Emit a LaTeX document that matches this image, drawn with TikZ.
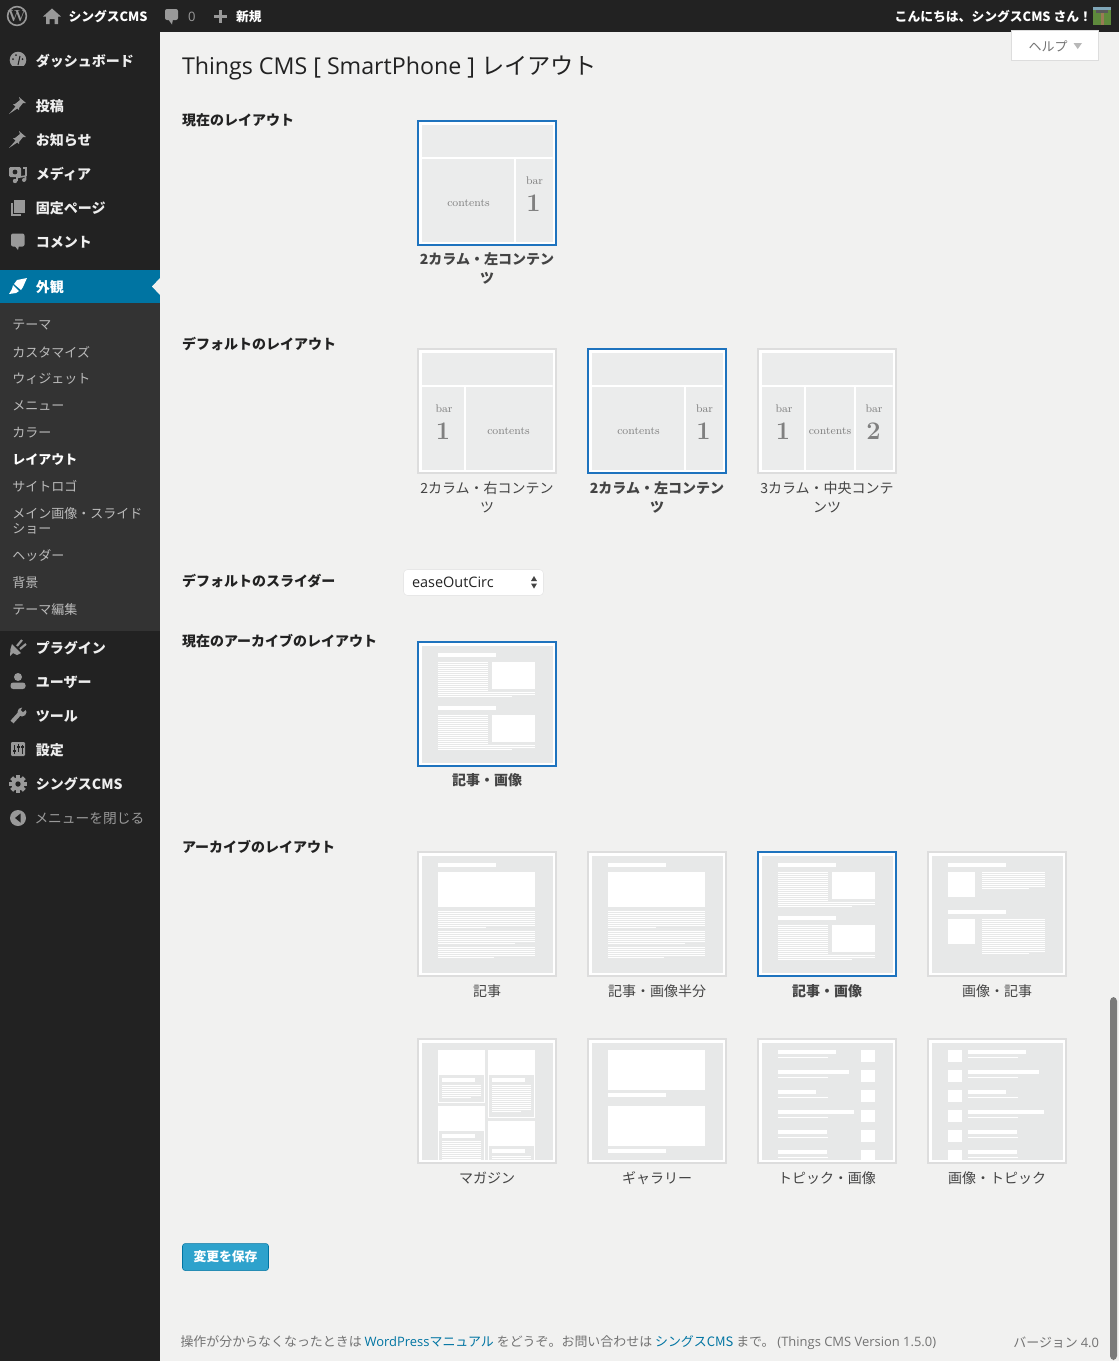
\documentclass[tikz,border=0pt]{standalone}
\usepackage{fontspec}
\newfontfamily\cjk{Noto Sans CJK JP}
\newfontfamily\ops{Open Sans}
\definecolor{pagebg}{HTML}{F1F1F0}
\definecolor{barbg}{HTML}{222222}
\definecolor{subbg}{HTML}{333333}
\definecolor{activebg}{HTML}{0074A2}
\definecolor{icongray}{HTML}{999999}
\definecolor{menutxt}{HTML}{EEEEEE}
\definecolor{subtxt}{HTML}{BBBBBB}
\definecolor{thumbblue}{HTML}{1E73BE}
\definecolor{thumbedge}{HTML}{DDDDDD}
\definecolor{thumbgray}{HTML}{E7E8E8}
\definecolor{cellgray}{HTML}{EBECEC}
\definecolor{linkblue}{HTML}{0074A2}
\definecolor{labtxt}{HTML}{444444}
\definecolor{btnblue}{HTML}{2EA2CC}
\definecolor{avgreen}{HTML}{5E8A3C}
\definecolor{avsky}{HTML}{7FA6B8}
\definecolor{avpath}{HTML}{9A7A55}
\tikzset{
  txt/.style={inner sep=0pt,outer sep=0pt,yshift=-0.75pt},
  menuitem/.style={txt,anchor=west,text=menutxt,font=\cjk\bfseries\fontsize{10.5}{12}\selectfont},
  subitem/.style={txt,anchor=west,text=subtxt,align=left,font=\cjk\fontsize{9.75}{11.2}\selectfont},
  section/.style={txt,anchor=west,text=barbg,font=\cjk\bfseries\fontsize{10.5}{12}\selectfont},
  thumblab/.style={txt,anchor=center,text=labtxt,align=center,font=\cjk\fontsize{10.5}{14.25}\selectfont},
  thumbsel/.style={thumblab,font=\cjk\bfseries\fontsize{10.5}{14.25}\selectfont},
  cellsmall/.style={txt,anchor=center,text=black!50,font=\rmfamily\fontsize{8.3}{10}\selectfont},
  cellbig/.style={txt,anchor=center,text=black!50,font=\rmfamily\bfseries\fontsize{19}{22}\selectfont},
}
% stripes: x1, x2, first y, number of full rows, x of the short row (0 = none)
\newcommand\rows[5]{%
  \foreach \k in {1,...,#4}{\fill[white] (#1,{#3+2*(\k-1)}) rectangle (#2,{#3+2*\k-1});}%
  \ifnum#5>0 \fill[white] (#1,{#3+2*#4}) rectangle (#5,{#3+2*#4+1});\fi}
\newcommand\wbox[4]{\fill[white] (#1,#2) rectangle (#3,#4);}
\newcommand\thumb[5]{% x, y, edge, inner colour, content
  \begin{scope}[shift={(#1,#2)}]
    \fill[#3] (0,0) rectangle (140,126);
    \fill[white] (2,2) rectangle (138,124);
    \fill[#4] (4.5,4.5) rectangle (135.5,121.5);
    \begin{scope}
      \clip (4.5,4.5) rectangle (135.5,121.5);
      #5
    \end{scope}
  \end{scope}}
\newcommand\cntA{\wbox{4.5}{37}{135.5}{39}\wbox{97}{39}{99}{121.5}%
  \node[cellsmall] (c\thenodeid a) at (51.5,82) {contents};
  \node[cellsmall] (c\thenodeid b) at (117.5,60) {bar};
  \node[cellbig] (c\thenodeid c) at (116.5,82) {1};}
\newcommand\cntB{\wbox{4.5}{37}{135.5}{39}\wbox{47}{39}{49}{121.5}%
  \node[cellsmall] (c\thenodeid a) at (91.5,82) {contents};
  \node[cellsmall] (c\thenodeid b) at (27,60) {bar};
  \node[cellbig] (c\thenodeid c) at (26,82) {1};}
\newcommand\cntC{\wbox{4.5}{37}{135.5}{39}\wbox{47}{39}{49}{121.5}\wbox{97}{39}{99}{121.5}%
  \node[cellsmall] (c\thenodeid a) at (73,82) {contents};
  \node[cellsmall] (c\thenodeid b) at (27,60) {bar};
  \node[cellbig] (c\thenodeid c) at (26,82) {1};
  \node[cellsmall] (c\thenodeid d) at (117,60) {bar};
  \node[cellbig] (c\thenodeid e) at (116.5,82) {2};}
\newcount\nodeidc
\newcommand\thenodeid{\the\nodeidc}
\newcommand\artFull{\wbox{21}{12}{79}{16}\wbox{21}{21}{118}{56}%
  \rows{21}{118}{60}{8}{69}\rows{21}{118}{80}{6}{98}\rows{21}{118}{96}{5}{77}}
\newcommand\artImg{\wbox{21}{12}{79}{16}\wbox{75}{21}{118}{48}%
  \rows{21}{71}{21}{15}{0}\rows{21}{118}{51}{2}{95}%
  \wbox{21}{65}{79}{69}\wbox{75}{74}{118}{101}%
  \rows{21}{71}{74}{15}{0}\rows{21}{118}{104}{2}{95}}
\newcommand\imgArt{\wbox{21}{12}{79}{16}\wbox{21}{21}{48}{46}%
  \rows{55}{118}{21}{8}{102}%
  \wbox{21}{59}{79}{63}\wbox{21}{68}{48}{93}%
  \rows{55}{118}{68}{17}{102}}
\newcommand\magazine{%
  \wbox{21}{12}{68}{65}\fill[thumbgray] (22,37) rectangle (67,64);
  \wbox{25}{40}{58}{44}\rows{25}{64}{47}{6}{54}%
  \wbox{71}{12}{118}{80}\fill[thumbgray] (72,37) rectangle (117,79);
  \wbox{75}{40}{108}{44}\rows{75}{114}{47}{13}{104}%
  \wbox{21}{68}{68}{125}\fill[thumbgray] (22,93) rectangle (67,125);
  \wbox{25}{96}{58}{100}\rows{25}{64}{103}{10}{0}%
  \wbox{71}{83}{118}{125}\fill[thumbgray] (72,108) rectangle (117,125);
  \wbox{75}{111}{108}{115}\rows{75}{114}{118}{3}{0}}
\newcommand\gallery{\wbox{21}{12}{118}{52}\wbox{21}{55}{79}{59}\wbox{21}{68}{118}{108}\wbox{21}{111}{79}{115}}
\newcommand\topicR{%
  \foreach \yy/\xe in {12/79,32/92,52/59,72/97,92/70,112/70}{%
    \fill[white] (21,\yy) rectangle (\xe,\yy+4);
    \fill[white] (21,\yy+7) rectangle (71,\yy+8);
    \fill[white] (104,\yy) rectangle (118,\yy+12);}}
\newcommand\topicL{%
  \foreach \yy/\xe in {12/99,32/112,52/79,72/117,92/90,112/90}{%
    \fill[white] (21,\yy) rectangle (35,\yy+12);
    \fill[white] (41,\yy) rectangle (\xe,\yy+4);
    \fill[white] (41,\yy+7) rectangle (91,\yy+8);}}
\begin{document}
\begin{tikzpicture}[x=0.75pt,y=-0.75pt]
\useasboundingbox (0,0) rectangle (1119,1361);
\fill[pagebg] (0,0) rectangle (1119,1361);
% side and top bars
\fill[barbg] (0,0) rectangle (160,1361);
\fill[subbg] (0,303) rectangle (160,631);
\fill[activebg] (0,270) rectangle (160,303);
\fill[pagebg] (160,278) -- (152,286.5) -- (160,295) -- cycle;
\fill[barbg] (0,0) rectangle (1119,32);
% top bar icons
\draw[icongray,line width=1.2pt] (17,16) circle (9.4);
\node[txt,yshift=0.75pt,text=icongray,font=\rmfamily\bfseries\fontsize{12}{12}\selectfont] (wplogo) at (17,16) {W};
\fill[icongray] (52,8.5) -- (61,16.5) -- (58,16.5) -- (58,24) -- (54.5,24) -- (54.5,19) -- (49.5,19) -- (49.5,24) -- (46,24) -- (46,16.5) -- (43,16.5) -- cycle;
\fill[icongray,rounded corners=1.5pt] (165,9) rectangle (178,20);
\fill[icongray] (168,19) -- (172,24.5) -- (173,19) -- cycle;
\fill[icongray] (218.5,9.5) rectangle (221.5,23);
\fill[icongray] (213.5,14.8) rectangle (226.5,17.8);
\node[menuitem,text=white,font=\cjk\bfseries\fontsize{9.6}{12}\selectfont] (sitename) at (68.5,15.5) {シングスCMS};
\node[txt,anchor=west,text=icongray,font=\ops\fontsize{9.75}{12}\selectfont] (commentcount) at (188,15.5) {0};
\node[menuitem,text=white,font=\cjk\bfseries\fontsize{9.6}{12}\selectfont] (newitem) at (236,15.5) {新規};
\node[txt,anchor=east,text=white,font=\cjk\bfseries\fontsize{9.6}{12}\selectfont] (greeting) at (1092,15.5) {こんにちは、シングスCMS さん！};
% avatar
\fill[avgreen] (1093,7) rectangle (1111,25);
\fill[avsky] (1093,7) rectangle (1111,10);
\fill[black!65] (1096,10) rectangle (1108,12.5);
\fill[avpath] (1100.5,12.5) rectangle (1103.5,25);
% help tab
\fill[white,draw=thumbedge] (1011.5,30) rectangle (1098.5,60.5);
\node[txt,text=icongray!75!black,font=\cjk\fontsize{9.75}{12}\selectfont] (helptab) at (1048,45) {ヘルプ};
\fill[icongray!70!white] (1073.5,43) -- (1082,43) -- (1077.7,49) -- cycle;
% sidebar icons
\begin{scope}[shift={(18,60)}]
  \fill[icongray] (0,0) circle (8.3);
  \fill[barbg] (-9,6) rectangle (9,9);
  \draw[barbg,line width=.8pt] (0,5) -- (2,-4);
  \fill[barbg] (-5,-1) circle (1); \fill[barbg] (-2,-5) circle (1); \fill[barbg] (4.5,-1) circle (1);
\end{scope}
\foreach \py in {105,139}{
  \fill[icongray] ({18+1},{\py-8}) -- ({18+8},{\py-2}) -- ({18+5},{\py-2}) -- ({18+1},{\py+3}) -- ({18+1},{\py+5}) -- ({18-5},{\py-1}) -- ({18-3},{\py-1}) -- ({18+2},{\py-5}) -- cycle;
  \fill[icongray] ({18-9},{\py+9}) -- ({18-2},{\py+1}) -- ({18},{\py+3}) -- cycle;
}
\begin{scope}[shift={(18,173)}]
  \fill[icongray,rounded corners=1pt] (-9,-6) rectangle (3,4);
  \fill[barbg] (-3,-1) circle (2.4);
  \fill[icongray] (-3,8) circle (2.2); \fill[icongray] (6,7) circle (2);
  \draw[icongray,line width=1.2pt] (-1,8) -- (-1,4.5) -- (7.5,3) -- (7.5,7);
  \draw[icongray,line width=1.2pt] (5,-5) -- (8,-5) -- (8,3);
\end{scope}
\begin{scope}[shift={(18,207)}]
  \fill[icongray] (-7,-4) rectangle (3,9);
  \fill[barbg] (-5,-7) rectangle (7,6.5);
  \fill[icongray] (-4,-7) rectangle (6.5,5.5);
\end{scope}
\begin{scope}[shift={(18,241)}]
  \fill[icongray,rounded corners=1.5pt] (-7,-7.5) rectangle (6.5,5.5);
  \fill[icongray] (-4,4) -- (0,9) -- (1,4) -- cycle;
\end{scope}
\begin{scope}[shift={(18,286)}]
  \fill[white] (9,-8) -- (-1,-6) -- (-4,-2) -- (3,4) -- (5,1) -- (9,-8) -- cycle;
  \fill[white] (-5,-1) -- (1,5) -- (-2,7) -- (-9,8) -- (-6,3) -- cycle;
\end{scope}
\begin{scope}[shift={(18,647)}]
  \fill[icongray] (-6,-3) -- (3,6) -- (-1,8) -- (-5,6) -- (-8,9) -- (-7.5,2) -- cycle;
  \draw[icongray,line width=1.6pt] (-1,-1) -- (4,-7);
  \draw[icongray,line width=1.6pt] (2,2) -- (8,-3);
\end{scope}
\begin{scope}[shift={(18,681)}]
  \fill[icongray] (0,-4) circle (4);
  \fill[icongray,rounded corners=2pt] (-7.5,8) -- (-7.5,1.5) -- (7.5,1.5) -- (7.5,8) -- cycle;
\end{scope}
\begin{scope}[shift={(18,715)}]
  \draw[icongray,line width=3pt] (-6,7) -- (3,-3);
  \fill[icongray] (4,-3) circle (4.5);
  \fill[barbg] (5,-9) -- (9,-6) -- (5,-3) -- (3,-5) -- cycle;
\end{scope}
\begin{scope}[shift={(18,749)}]
  \fill[icongray,rounded corners=.8pt] (-7,-7) rectangle (7,7);
  \draw[barbg,line width=.9pt] (-3.5,-4) -- (-3.5,5) (0.5,-5) -- (0.5,3) (4.5,-4) -- (4.5,5);
  \draw[barbg,line width=1pt] (-5,2) -- (-2,2) (-1,-2) -- (2,-2) (3,-2) -- (6,-2);
\end{scope}
\begin{scope}[shift={(18,784)}]
  \foreach \a in {0,45,...,315}{\fill[icongray,rotate=\a] (-2,-9) rectangle (2,-4);}
  \fill[icongray] (0,0) circle (6.5);
  \fill[barbg] (0,0) circle (2.7);
\end{scope}
\begin{scope}[shift={(18,818)}]
  \fill[icongray] (0,0) circle (8);
  \fill[barbg] (2.5,-4.5) -- (-3,0) -- (2.5,4.5) -- cycle;
\end{scope}
% sidebar text
\node[menuitem] (mDash) at (36,60) {ダッシュボード};
\node[menuitem] (mPost) at (36,105) {投稿};
\node[menuitem] (mNews) at (36,139) {お知らせ};
\node[menuitem] (mMedia) at (36,173) {メディア};
\node[menuitem] (mPage) at (36,207) {固定ページ};
\node[menuitem] (mComm) at (36,241) {コメント};
\node[menuitem,text=white] (mLook) at (36,286) {外観};
\node[subitem] (s1) at (12.5,324) {テーマ};
\node[subitem] (s2) at (12.5,351) {カスタマイズ};
\node[subitem] (s3) at (12.5,378) {ウィジェット};
\node[subitem] (s4) at (12.5,405) {メニュー};
\node[subitem] (s5) at (12.5,432) {カラー};
\node[subitem,text=white,font=\cjk\bfseries\fontsize{9.75}{11.2}\selectfont] (s6) at (12.5,459) {レイアウト};
\node[subitem] (s7) at (12.5,485) {サイトロゴ};
\node[subitem] (s8) at (12.5,520) {メイン画像・スライド\\ショー};
\node[subitem] (s9) at (12.5,554) {ヘッダー};
\node[subitem] (s10) at (12.5,582) {背景};
\node[subitem] (s11) at (12.5,609) {テーマ編集};
\node[menuitem] (mPlug) at (36,647) {プラグイン};
\node[menuitem] (mUser) at (36,681) {ユーザー};
\node[menuitem] (mTool) at (36,715) {ツール};
\node[menuitem] (mSet) at (36,749) {設定};
\node[menuitem] (mCms) at (36,783.5) {シングスCMS};
\node[menuitem,text=icongray,font=\cjk\fontsize{10.3}{12}\selectfont] (mClose) at (34.5,817.5) {メニューを閉じる};
% heading and section labels
\node[txt,anchor=west,text=barbg,font=\fontsize{17.4}{20}\selectfont] (title) at (182,67) {\ops Things CMS [ SmartPhone ] \cjk レイアウト};
\node[section] (h1) at (182,119) {現在のレイアウト};
\node[section] (h2) at (182,343) {デフォルトのレイアウト};
\node[section] (h3) at (182,580) {デフォルトのスライダー};
\node[section] (h4) at (182,640) {現在のアーカイブのレイアウト};
\node[section] (h5) at (182,846) {アーカイブのレイアウト};
% thumbnails
\global\nodeidc=1 \thumb{417}{120}{thumbblue}{cellgray}{\cntA}
\global\nodeidc=2 \thumb{417}{348}{thumbedge}{cellgray}{\cntB}
\global\nodeidc=3 \thumb{587}{348}{thumbblue}{cellgray}{\cntA}
\global\nodeidc=4 \thumb{757}{348}{thumbedge}{cellgray}{\cntC}
\thumb{417}{641}{thumbblue}{thumbgray}{\artImg}
\thumb{417}{851}{thumbedge}{thumbgray}{\artFull}
\thumb{587}{851}{thumbedge}{thumbgray}{\artFull}
\thumb{757}{851}{thumbblue}{thumbgray}{\artImg}
\thumb{927}{851}{thumbedge}{thumbgray}{\imgArt}
\thumb{417}{1038}{thumbedge}{thumbgray}{\magazine}
\thumb{587}{1038}{thumbedge}{thumbgray}{\gallery}
\thumb{757}{1038}{thumbedge}{thumbgray}{\topicR}
\thumb{927}{1038}{thumbedge}{thumbgray}{\topicL}
% thumbnail captions
\node[thumbsel] (t1) at (487,267.5) {2カラム・左コンテン\\ツ};
\node[thumblab] (t2) at (487,496.5) {2カラム・右コンテン\\ツ};
\node[thumbsel] (t3) at (657,496.5) {2カラム・左コンテン\\ツ};
\node[thumblab] (t4) at (827,496.5) {3カラム・中央コンテ\\ンツ};
\node[thumbsel] (t5) at (487,779.5) {記事・画像};
\node[thumblab] (t6) at (487,990.5) {記事};
\node[thumblab] (t7) at (657,990.5) {記事・画像半分};
\node[thumbsel] (t8) at (827,990.5) {記事・画像};
\node[thumblab] (t9) at (997,990.5) {画像・記事};
\node[thumblab] (t10) at (487,1177.5) {マガジン};
\node[thumblab] (t11) at (657,1177.5) {ギャラリー};
\node[thumblab] (t12) at (827,1177.5) {トピック・画像};
\node[thumblab] (t13) at (997,1177.5) {画像・トピック};
% select
\fill[white,draw=thumbedge!70!white,rounded corners=3pt] (403.5,569.5) rectangle (543.5,595.5);
\node[txt,anchor=west,text=barbg,font=\ops\fontsize{10.85}{12}\selectfont] (selecttext) at (412,581) {easeOutCirc};
\fill[barbg!85!white] (531,581) -- (534,576) -- (537,581) -- cycle;
\fill[barbg!85!white] (531,583.5) -- (534,588.5) -- (537,583.5) -- cycle;
% save button
\node[txt,yshift=0.75pt,draw=activebg,fill=btnblue,rounded corners=2pt,minimum width=64.5pt,minimum height=20.25pt,anchor=north west,text=white,font=\cjk\bfseries\fontsize{9.6}{12}\selectfont] (savebtn) at (182.5,1243.5) {変更を保存};
% footer
\node[txt,anchor=west,text=black!55,font=\cjk\fontsize{9.71}{12}\selectfont] (footerleft) at (180.5,1342) {操作が分からなくなったときは {\color{linkblue}\ops WordPress\cjk マニュアル} をどうぞ。お問い合わせは {\color{linkblue}シングスCMS} まで。 {\ops(Things CMS Version 1.5.0)}};
\node[txt,anchor=east,text=black!55,font=\cjk\fontsize{9.71}{12}\selectfont] (footerright) at (1099,1342) {バージョン {\ops 4.0}};
% scrollbar
\fill[black!52,rounded corners=3pt] (1110,997) rectangle (1117,1360);
\end{tikzpicture}
\end{document}
